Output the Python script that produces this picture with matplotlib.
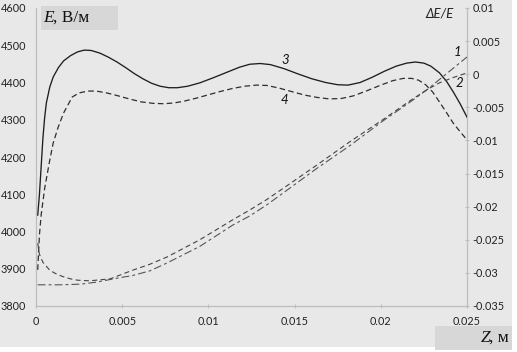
import matplotlib
matplotlib.use("Agg")
import matplotlib.pyplot as plt
from matplotlib.patches import Rectangle

# ---------------- data ----------------
# curve 3: E, solid (left axis)
z3 = [0.0001, 0.0002, 0.0003, 0.0004, 0.0005, 0.0006, 0.0008, 0.0010, 0.0013, 0.0016,
      0.0020, 0.0024, 0.0028, 0.0032, 0.0037, 0.0042, 0.0047, 0.0052, 0.0057, 0.0062,
      0.0067, 0.0072, 0.0077, 0.0082, 0.0088, 0.0095, 0.0103, 0.0111, 0.0118, 0.0124,
      0.0130, 0.0136, 0.0144, 0.0152, 0.0160, 0.0168, 0.0175, 0.0181, 0.0188, 0.0195,
      0.0202, 0.0209, 0.0215, 0.0220, 0.0225, 0.0229, 0.0234, 0.0238, 0.0242, 0.0246,
      0.0250]
e3 = [4044, 4100, 4175, 4250, 4305, 4345, 4388, 4415, 4440, 4458,
      4472, 4482, 4487, 4486, 4479, 4468, 4455, 4440, 4424, 4410,
      4398, 4390, 4386, 4386, 4390, 4399, 4413, 4428, 4441, 4449,
      4451, 4448, 4437, 4423, 4410, 4400, 4394, 4393, 4400, 4414,
      4430, 4444, 4452, 4455, 4452, 4444, 4426, 4404, 4375, 4343,
      4307]

# curve 4: E, dashed (left axis)
z4 = [0.0001, 0.0002, 0.0003, 0.0005, 0.0008, 0.0010, 0.0013, 0.0016, 0.0021, 0.0025,
      0.0030, 0.0035, 0.0041, 0.0047, 0.0054, 0.0061, 0.0068, 0.0074, 0.0080, 0.0086,
      0.0093, 0.0100, 0.0107, 0.0114, 0.0121, 0.0128, 0.0134, 0.0141, 0.0148, 0.0156,
      0.0163, 0.0170, 0.0177, 0.0184, 0.0192, 0.0200, 0.0207, 0.0213, 0.0218, 0.0222,
      0.0226, 0.0230, 0.0234, 0.0238, 0.0242, 0.0246, 0.0250]
e4 = [3897, 3991, 4045, 4115, 4192, 4238, 4282, 4318, 4361, 4372,
      4377, 4377, 4372, 4365, 4356, 4348, 4344, 4343, 4345, 4350,
      4358, 4367, 4376, 4384, 4390, 4393, 4392, 4385, 4376, 4366,
      4360, 4356, 4357, 4364, 4378, 4393, 4405, 4411, 4411, 4406,
      4394, 4375, 4348, 4320, 4291, 4268, 4246]

# curve 1: dE/E, dash-dot (right axis)
z1 = [0.0001, 0.0014, 0.0026, 0.0035, 0.0047, 0.0056, 0.0066, 0.0076, 0.0095, 0.0114,
      0.0124, 0.0134, 0.0143, 0.0153, 0.0163, 0.0182, 0.0201, 0.0217, 0.0227, 0.0234,
      0.0242, 0.0250]
r1 = [-0.0318, -0.0318, -0.0317, -0.0314, -0.0308, -0.0304, -0.0297, -0.0285, -0.0260, -0.0228,
      -0.0214, -0.0197, -0.0180, -0.0161, -0.0142, -0.0108, -0.0071, -0.0042, -0.0023, -0.0008,
      0.0009, 0.0026]

# curve 2: dE/E, dashed (right axis)
z2 = [0.0001, 0.0002, 0.0004, 0.0008, 0.0012, 0.0016, 0.0020, 0.0024, 0.0031, 0.0043,
      0.0056, 0.0066, 0.0076, 0.0095, 0.0114, 0.0124, 0.0134, 0.0143, 0.0153, 0.0163,
      0.0182, 0.0201, 0.0217, 0.0227, 0.0234, 0.0242, 0.0250]
r2 = [-0.0255, -0.0272, -0.0284, -0.0296, -0.0302, -0.0306, -0.0309, -0.0311, -0.0312, -0.0309,
      -0.0296, -0.0287, -0.0276, -0.0250, -0.0220, -0.0205, -0.0189, -0.0173, -0.0155, -0.0137,
      -0.0102, -0.0069, -0.0040, -0.0023, -0.0013, -0.0005, 0.0002]

x_ticks = [0, 0.005, 0.01, 0.015, 0.02, 0.025]
x_labels = ["0", "0.005", "0.01", "0.015", "0.02", "0.025"]
e_ticks = [3800, 3900, 4000, 4100, 4200, 4300, 4400, 4500, 4600]
r_ticks = [-0.035, -0.03, -0.025, -0.02, -0.015, -0.01, -0.005, 0, 0.005, 0.01]
r_labels = ["-0.035", "-0.03", "-0.025", "-0.02", "-0.015", "-0.01", "-0.005", "0", "0.005", "0.01"]

# ---------------- figure ----------------
W, H = 517, 352
fig = plt.figure(figsize=(W / 100, H / 100), dpi=100)
fig.patch.set_facecolor("white")

def fx(px):
    return px / W

def fy(py):
    return 1 - py / H

bg = "#e8e8e8"
box_c = "#d7d7d7"
fig.patches.append(Rectangle((0, fy(347)), fx(512), 347 / H, transform=fig.transFigure,
                             facecolor=bg, edgecolor="none", zorder=-10))
# label boxes
fig.patches.append(Rectangle((fx(41), fy(30)), fx(77), 24 / H, transform=fig.transFigure,
                             facecolor=box_c, edgecolor="none", zorder=-9))
fig.patches.append(Rectangle((fx(435), fy(350)), fx(77), 24 / H, transform=fig.transFigure,
                             facecolor=box_c, edgecolor="none", zorder=-9))

ax = fig.add_axes([fx(36), fy(306), fx(467 - 36), (306 - 8) / H])
ax.patch.set_visible(False)
ax2 = ax.twinx()
ax2.patch.set_visible(False)

tick_font = "Lato"
spine_c = "#bdbdbd"

ax.plot(z3, e3, color="#1e1e1e", lw=0.95, zorder=3)
ax.plot(z4, e4, color="#2e2e2e", lw=0.9, dashes=(4.5, 2.6), zorder=3)
ax2.plot(z1, r1, color="#555555", lw=0.8, dashes=(7, 2.8, 2.6, 2.8), zorder=3)
ax2.plot(z2, r2, color="#444444", lw=0.8, dashes=(4.5, 3), zorder=3)

ax.set_xlim(0, 0.025)
ax.set_ylim(3800, 4600)
ax2.set_ylim(-0.035, 0.01)

ax.set_xticks(x_ticks)
ax.set_xticklabels(x_labels)
ax.set_yticks(e_ticks)
ax.set_yticklabels([str(v) for v in e_ticks])
ax2.set_yticks(r_ticks)
ax2.set_yticklabels(r_labels)

for a in (ax, ax2):
    for s in a.spines.values():
        s.set_color(spine_c)
        s.set_linewidth(0.8)
    a.spines["top"].set_visible(False)

ax.tick_params(axis="x", direction="inout", length=3, color=spine_c, pad=6,
               labelsize=7.8, labelcolor="#222222")
ax.tick_params(axis="y", length=0, pad=7, labelsize=7.8, labelcolor="#222222")
ax2.tick_params(axis="y", direction="inout", length=3, color=spine_c, pad=2.5,
                labelsize=7.8, labelcolor="#222222")
for lab in ax.get_xticklabels() + ax.get_yticklabels() + ax2.get_yticklabels():
    lab.set_fontfamily(tick_font)

# axis titles
serif = "Liberation Serif"
fig.text(fx(43), fy(22), "E", fontsize=12.5, family=serif, style="italic", color="#111111")
fig.text(fx(53), fy(22), ", В/м", fontsize=12.5, family=serif, color="#111111")
fig.text(fx(509), fy(342), ", м", fontsize=12.5, family=serif, ha="right", color="#111111")
fig.text(fx(490), fy(342), "Z", fontsize=12.5, family=serif, style="italic", ha="right",
         color="#111111")
fig.text(fx(454), fy(18), "ΔE/E", fontsize=9.5, family=tick_font, style="italic",
         ha="right", color="#222222")

# curve numbers
for txt, px, py in [("3", 285, 64), ("4", 284, 104), ("1", 457, 56), ("2", 459, 87)]:
    fig.text(fx(px), fy(py), txt, fontsize=9.5, family=tick_font, style="italic",
             ha="center", color="#111111")

fig.savefig("out.png", dpi=100)
